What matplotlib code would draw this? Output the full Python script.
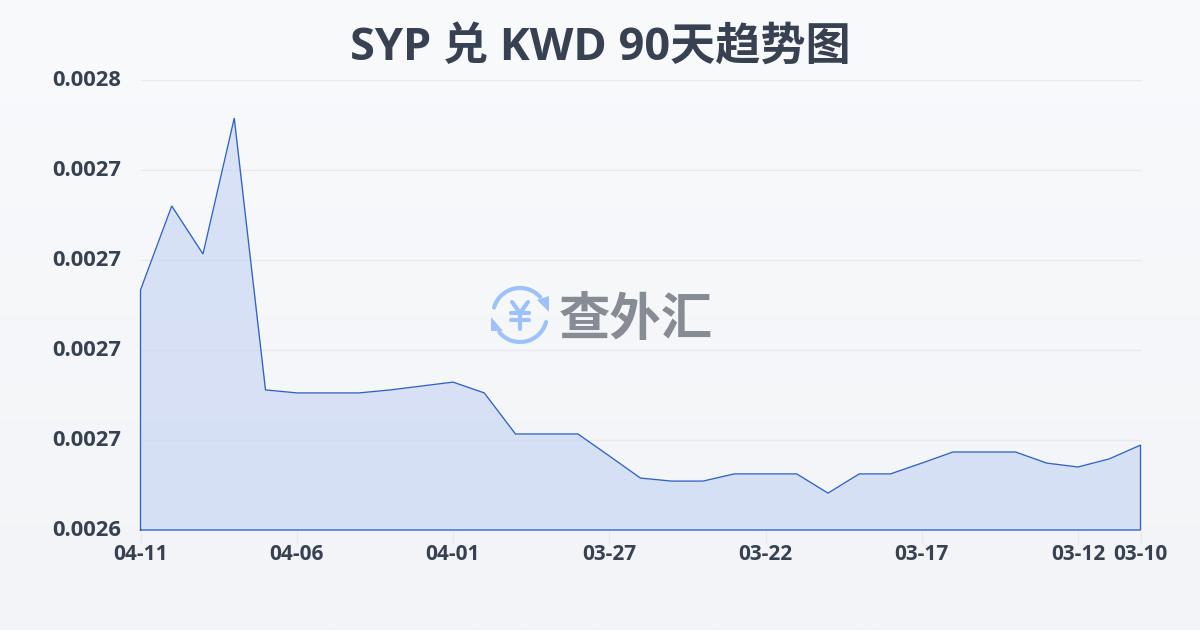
import numpy as np
import matplotlib
matplotlib.use('Agg')
import matplotlib.pyplot as plt
from matplotlib.patches import Arc, Polygon
from matplotlib.transforms import ScaledTranslation

title = 'SYP 兑 KWD 90天趋势图'
dates = ['04-11', '04-06', '04-01', '03-27', '03-22', '03-17', '03-12', '03-10']
date_pos = [0, 5, 10, 15, 20, 25, 30, 32]
y_ticks = [0.00264, 0.00267, 0.00270, 0.00273, 0.00276, 0.00279]
y_tick_labels = ['0.0026', '0.0027', '0.0027', '0.0027', '0.0027', '0.0028']
rates = [0.00272, 0.002748, 0.002732, 0.0027773, 0.0026867, 0.0026857, 0.0026857, 0.0026857,
         0.0026867, 0.002688, 0.0026893, 0.0026857, 0.002672, 0.002672, 0.002672, 0.0026647,
         0.0026573, 0.0026563, 0.0026563, 0.0026587, 0.0026587, 0.0026587, 0.0026523, 0.0026587,
         0.0026587, 0.0026623, 0.002666, 0.002666, 0.002666, 0.0026623, 0.002661, 0.0026637,
         0.0026683]

W, H = 1200, 630
fig = plt.figure(figsize=(W/100, H/100), dpi=100)

bg = fig.add_axes([0, 0, 1, 1], zorder=0)
bg.axis('off')
bg.imshow(np.linspace(0, 1, 256)[:, None], aspect='auto', extent=(0, 1, 0, 1),
          cmap=matplotlib.colors.LinearSegmentedColormap.from_list('b', ['#f9fafc', '#f3f4f7']))

ax = fig.add_axes([140.5/W, 1-530/H, 1000/W, 450/H], zorder=1)
ax.patch.set_alpha(0)
x = np.arange(len(rates))
ax.fill_between(x, rates, y_ticks[0], color='#c5d4f3', alpha=0.62, lw=0, zorder=2)
ax.plot(np.r_[x[0], x, x[-1], x[0]], np.r_[y_ticks[0], rates, y_ticks[0], y_ticks[0]],
        color='#2f62c8', lw=0.95, zorder=3, solid_joinstyle='miter', clip_on=False)
ax.set_xlim(0, len(rates)-1)
ax.set_ylim(y_ticks[0], y_ticks[-1])
ax.set_yticks(y_ticks, y_tick_labels)
ax.set_xticks(date_pos, dates)
ax.grid(axis='y', color='#e7e9ed', lw=1)
ax.set_axisbelow(True)
for s in ax.spines.values():
    s.set_visible(False)
ax.tick_params(axis='y', length=0, pad=14, labelsize=15.8, labelcolor='#374151')
ax.tick_params(axis='x', length=10, width=1, color='#e7e9ed', pad=0, labelsize=15, labelcolor='#374151')
for t in ax.get_yticklabels() + ax.get_xticklabels():
    t.set_family('Open Sans')
    t.set_fontweight('bold')
for t in ax.get_yticklabels():
    t.set_transform(t.get_transform() + ScaledTranslation(0, 2/100, fig.dpi_scale_trans))

fig.text(0.5, 1-48/H, title, ha='center', va='center', fontsize=32.5, fontweight='bold',
         color='#374151', family=['Open Sans', 'Noto Sans CJK SC'])

# watermark
ov = fig.add_axes([0, 0, 1, 1], zorder=4)
ov.set_xlim(0, W)
ov.set_ylim(H, 0)
ov.axis('off')
blue = '#9cc1fb'
stroke = dict(color=blue, lw=3, solid_capstyle='round', solid_joinstyle='round')
ov.plot([512, 520, 528], [302, 313, 302], **stroke)
ov.plot([520, 520], [313, 329], **stroke)
ov.plot([511, 529], [313, 313], **stroke)
ov.plot([511, 529], [320, 320], **stroke)
ov.add_patch(Arc((520, 315), 54, 54, theta1=196, theta2=318, color=blue, lw=3, capstyle='round'))
ov.add_patch(Arc((520, 315), 54, 54, theta1=15, theta2=140, color=blue, lw=3, capstyle='round'))
ov.add_patch(Polygon([[537, 300], [549, 296], [549, 312]], color=blue, lw=0))
ov.add_patch(Polygon([[491, 317], [491, 331], [503, 331]], color=blue, lw=0))
ov.text(636, 320, '查外汇', ha='center', va='center', fontsize=37, fontweight='bold', color='#878b94',
        family=['Noto Sans CJK SC', 'DejaVu Sans'])

fig.savefig('out.png', dpi=100)
